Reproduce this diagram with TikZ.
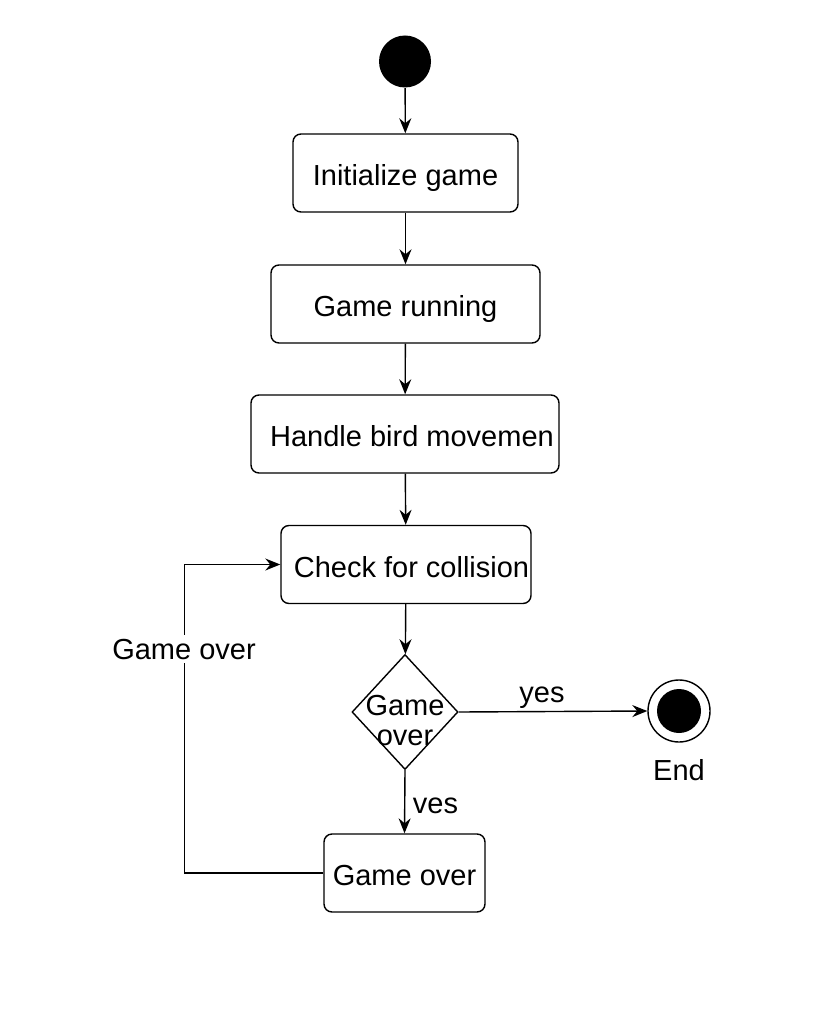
\documentclass[tikz,border=0pt]{standalone}
\usepackage{fontspec}
\setmainfont{Liberation Sans}
\usetikzlibrary{arrows.meta,shapes.geometric}
\begin{document}
\begin{tikzpicture}[x=1pt,y=-1pt,line width=1.4pt,
  every node/.style={font=\fontsize{29}{30}\selectfont},
  box/.style={draw,rounded corners=8pt,minimum height=78pt,inner xsep=0pt,text height=25pt,text depth=0pt},
  arr/.style={-{Stealth[length=15pt,width=12pt,inset=5pt]}}]
\useasboundingbox (0,0) rectangle (825,1014);
% start and steps
\node[fill,circle,minimum size=52pt,inner sep=0pt] (start) at (405,61.5) {};
\node[box,minimum width=225pt] (init) at (405.5,173) {Initialize game};
\node[box,minimum width=269pt] (run) at (405.5,304) {Game running};
\node[box,minimum width=308pt] (move) at (405,434) {\hspace*{14pt}Handle bird movemen};
\node[box,minimum width=250pt] (check) at (406,564.5) {\hspace*{11pt}Check for collision};
\node[draw,diamond,minimum width=106pt,minimum height=115pt,inner sep=0pt] (dec) at (405,712) {};
\node[align=center] (dectext) at (405,721) {Game\\over};
\node[box,minimum width=161pt] (over) at (404.5,873) {Game over};
% end
\node[draw,circle,minimum size=62pt,inner sep=0pt] (endc) at (679,711) {};
\node[fill,circle,minimum size=44pt,inner sep=0pt] (enddot) at (endc) {};
\node[anchor=base] (endlbl) at (679,780) {End};
% flow
\draw[arr] (start) -- (init);
\draw[arr] (init) -- (run);
\draw[arr] (run) -- (move);
\draw[arr] (move) -- (check);
\draw[arr] (check) -- (dec);
\draw[arr] (dec.east) -- (endc.west);
\draw[arr] (dec.south) -- (over.north);
\node[anchor=base] (yeslbl) at (542,702) {yes};
\node[anchor=base] (veslbl) at (435.5,813) {ves};
% loop back
\coordinate (loop) at (184.5,0);
\draw[arr] (over.west) -- (over.west -| loop) |- (check.west);
\node[anchor=base,fill=white,inner sep=4pt] (looplbl) at (184,659) {Game over};
\end{tikzpicture}
\end{document}
